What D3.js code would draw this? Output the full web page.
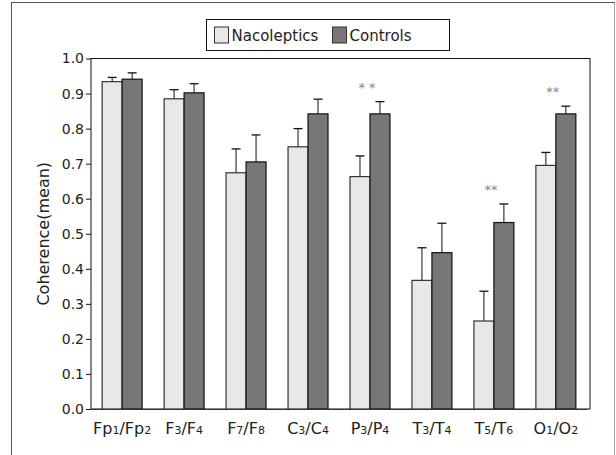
<!DOCTYPE html>
<html>
<head>
<meta charset="utf-8">
<script src="https://cdn.jsdelivr.net/npm/d3@7"></script>
<style>
	body { margin: 0; background: #fff; }
	svg { display: block; font-family: "DejaVu Sans", sans-serif; }
</style>
</head>
<body>
<svg width="616" height="455"></svg>
<script>
const categories = ['Fp1/Fp2', 'F3/F4', 'F7/F8', 'C3/C4', 'P3/P4', 'T3/T4', 'T5/T6', 'O1/O2'];
const seriesNames = ['Nacoleptics', 'Controls'];
const nacoleptics = [0.934, 0.885, 0.674, 0.748, 0.663, 0.367, 0.251, 0.695];
const nacolepticsErr = [0.012, 0.026, 0.068, 0.052, 0.059, 0.093, 0.085, 0.037];
const controls = [0.941, 0.902, 0.705, 0.842, 0.842, 0.446, 0.532, 0.842];
const controlsErr = [0.018, 0.026, 0.077, 0.042, 0.035, 0.084, 0.053, 0.022];
const significance = ['', '', '', '', '* *', '', '**', '**'];
const yTicks = [0, 0.1, 0.2, 0.3, 0.4, 0.5, 0.6, 0.7, 0.8, 0.9, 1.0];

const colors = ['#e8e8e8', '#777777'];

const plotLeft = 91, plotRight = 590, plotTop = 58.5, plotBottom = 409;

const svg = d3.select('svg');

// outer frame
svg.append('rect')
	.attr('x', 11.5).attr('y', 2.5)
	.attr('width', 603).attr('height', 470)
	.attr('fill', 'none').attr('stroke', '#555');
svg.append('line')
	.attr('x1', 614.5).attr('x2', 614.5).attr('y1', 3).attr('y2', 455)
	.attr('stroke', '#aaa');

const x = d3.scaleBand()
	.domain(categories)
	.range([plotLeft, 587])
	.paddingInner(0.355)
	.paddingOuter(0.18);
const xSub = d3.scaleBand()
	.domain(seriesNames)
	.range([0, x.bandwidth()]);
const y = d3.scaleLinear()
	.domain([0, 1])
	.range([plotBottom, plotTop]);

// plot frame
svg.append('rect')
	.attr('x', plotLeft).attr('y', plotTop)
	.attr('width', plotRight - plotLeft).attr('height', plotBottom - plotTop)
	.attr('fill', 'none').attr('stroke', '#111');

const rows = categories.map((c, i) => ({
	cat: c,
	vals: [
		{ s: seriesNames[0], v: nacoleptics[i], e: nacolepticsErr[i] },
		{ s: seriesNames[1], v: controls[i], e: controlsErr[i] }
	],
	sig: significance[i]
}));

const groups = svg.append('g')
	.selectAll('g')
	.data(rows)
	.enter()
	.append('g')
	.attr('transform', d => 'translate(' + x(d.cat) + ',0)');

// error bars (upper only)
groups.selectAll('line.err')
	.data(d => d.vals)
	.enter()
	.append('line')
	.attr('class', 'err')
	.attr('x1', d => xSub(d.s) + xSub.bandwidth() / 2)
	.attr('x2', d => xSub(d.s) + xSub.bandwidth() / 2)
	.attr('y1', d => y(d.v))
	.attr('y2', d => y(d.v + d.e))
	.attr('stroke', '#111');
groups.selectAll('line.cap')
	.data(d => d.vals)
	.enter()
	.append('line')
	.attr('class', 'cap')
	.attr('x1', d => xSub(d.s) + xSub.bandwidth() / 2 - 4.5)
	.attr('x2', d => xSub(d.s) + xSub.bandwidth() / 2 + 4.5)
	.attr('y1', d => y(d.v + d.e))
	.attr('y2', d => y(d.v + d.e))
	.attr('stroke', '#111')
	.attr('stroke-width', 1.3);

groups.selectAll('rect')
	.data(d => d.vals)
	.enter()
	.append('rect')
	.attr('x', d => xSub(d.s))
	.attr('y', d => y(d.v))
	.attr('width', xSub.bandwidth())
	.attr('height', d => y(0) - y(d.v))
	.attr('fill', (d, i) => colors[i])
	.attr('stroke', (d, i) => i ? '#111' : '#333')
	.attr('stroke-width', 1.2);

// significance stars
groups.filter(d => d.sig)
	.append('text')
	.attr('x', x.bandwidth() / 2 - 3)
	.attr('y', d => y(d3.max(d.vals, v => v.v + v.e)) - 10)
	.attr('text-anchor', 'middle')
	.style('font-size', '13px')
	.style('fill', '#888')
	.text(d => d.sig);

// y axis
const yAxis = d3.axisLeft(y)
	.tickValues(yTicks)
	.tickFormat(d3.format('.1f'))
	.tickSize(5)
	.tickPadding(2);
const gy = svg.append('g')
	.attr('transform', 'translate(' + plotLeft + ',0)')
	.call(yAxis);
gy.select('.domain').remove();
gy.selectAll('line').attr('stroke', '#111');
gy.selectAll('text')
	.style('font-size', '14px')
	.style('font-family', '"DejaVu Sans", sans-serif')
	.attr('fill', '#222');

// x axis labels with subscripts
const xAxis = d3.axisBottom(x).tickSize(0).tickPadding(14);
const gx = svg.append('g')
	.attr('transform', 'translate(0,' + plotBottom + ')')
	.call(xAxis);
gx.select('.domain').attr('stroke', '#333');
gx.selectAll('.tick text')
	.style('font-size', '16px')
	.style('font-family', '"DejaVu Sans", sans-serif')
	.attr('fill', '#222')
	.each(function (d) {
		const t = d3.select(this).text('');
		d.match(/[A-Za-z\/]+|\d+/g).forEach(part => {
			const ts = t.append('tspan').text(part);
			if (/\d/.test(part)) ts.style('font-size', '11px');
		});
	});

svg.append('text')
	.attr('transform', 'translate(49,' + (plotTop + plotBottom) / 2 + ') rotate(-90)')
	.attr('text-anchor', 'middle')
	.style('font-size', '16px')
	.attr('fill', '#222')
	.text('Coherence(mean)');

// legend
const legend = svg.append('g').attr('transform', 'translate(206.5,19.5)');
legend.append('rect')
	.attr('width', 243).attr('height', 31)
	.attr('fill', '#fff').attr('stroke', '#111');
const legendX = [8, 126];
seriesNames.forEach((name, i) => {
	legend.append('rect')
		.attr('x', legendX[i]).attr('y', 7.5)
		.attr('width', 14).attr('height', 16)
		.attr('fill', colors[i]).attr('stroke', '#333');
	legend.append('text')
		.attr('x', legendX[i] + 17).attr('y', 21)
		.style('font-size', '15px')
		.attr('fill', '#222')
		.text(name);
});
</script>
</body>
</html>
